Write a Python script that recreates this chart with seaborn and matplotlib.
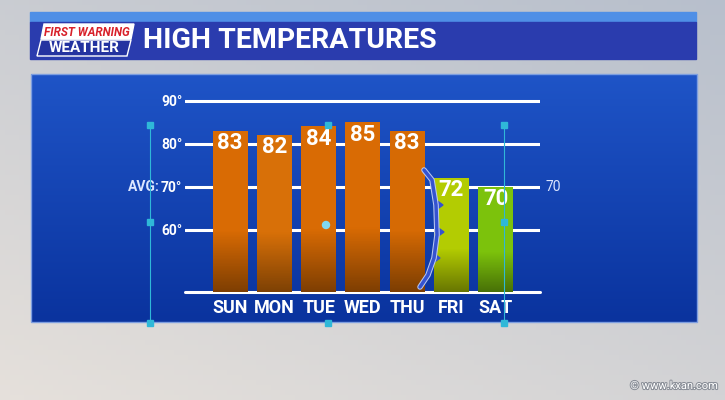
import numpy as np
import pandas as pd
import matplotlib.pyplot as plt
import matplotlib.patheffects as pe
import seaborn as sns
from matplotlib.patches import Rectangle, Polygon, Circle

days = ["SUN", "MON", "TUE", "WED", "THU", "FRI", "SAT"]
highs = [83, 82, 84, 85, 83, 72, 70]
bar_colors = ["#d96b04", "#d87008", "#d96b04", "#d96b04", "#d66a04", "#b3cc02", "#7cc20c"]
grid_temps = [60, 70, 80, 90]
grid_labels = ["60°", "70°", "80°", "90°"]
avg_high = 70
y_floor = 45.5

sns.set_theme(style="white")
plt.rcParams["font.family"] = ["Roboto", "DejaVu Sans"]

fig = plt.figure(figsize=(7.25, 4), dpi=100)

# ---- background: sky, banner, blue panel (pixel coords)
bg = fig.add_axes([0, 0, 1, 1], zorder=0)
bg.set_xlim(0, 725)
bg.set_ylim(400, 0)
bg.axis("off")

yy, xx = np.mgrid[0:1:80j, 0:1:150j]
top = np.array([0.72, 0.75, 0.80])
bot = np.array([0.90, 0.88, 0.86])
mix = (0.6 * yy + 0.4 * (1 - xx))[..., None]
sky = top * (1 - mix) + bot * mix
bg.imshow(sky, extent=(0, 725, 400, 0), aspect="auto", zorder=0)

bg.add_patch(Rectangle((30, 12), 666, 10, color="#4f8fe6", zorder=1))
bg.add_patch(Rectangle((30, 22), 666, 37, color="#2a3cae", zorder=1))

# logo
bg.add_patch(Polygon([(44, 24), (134, 24), (131, 39), (41, 39)], color="white", zorder=2))
bg.add_patch(Polygon([(41, 40), (131, 40), (127, 56), (37, 56)], facecolor="#2433a0",
                     edgecolor="white", lw=1, zorder=2))
bg.text(87, 32, "FIRST WARNING", color="#d8202a", fontsize=8.5, weight="bold",
        style="italic", ha="center", va="center", zorder=3)
bg.text(84, 48, "WEATHER", color="white", fontsize=11, weight="bold",
        ha="center", va="center", zorder=3)

bg.text(143, 41, "HIGH TEMPERATURES", color="white", fontsize=20.5, weight="bold",
        ha="left", va="center", zorder=3)

# panel gradient
pg = np.linspace(0, 1, 100)[:, None, None]
ptop = np.array([0.12, 0.33, 0.78])
pbot = np.array([0.04, 0.20, 0.62])
panel = ptop * (1 - pg) + pbot * pg
bg.imshow(np.repeat(panel, 2, axis=1), extent=(31, 697, 322, 74), aspect="auto", zorder=1)
bg.add_patch(Rectangle((31, 74), 666, 248, fill=False, edgecolor="#7d9ee0", lw=1, zorder=2))

bg.text(718, 386, "© www.kxan.com", color="white", fontsize=8, ha="right", va="center",
        path_effects=[pe.withStroke(linewidth=1.5, foreground="#8a8f98")], zorder=3)

# ---- main chart
ax = fig.add_axes([185 / 725, 108 / 400, 355 / 725, 200 / 400], zorder=1)
ax.patch.set_alpha(0)

df = pd.DataFrame({"day": days, "high": highs})
sns.barplot(data=df, x="day", y="high", hue="day", palette=bar_colors, legend=False,
            width=0.79, saturation=1, linewidth=0, edgecolor="none", ax=ax, zorder=3)

for t in grid_temps:
    ax.axhline(t, color="white", lw=2.2, zorder=1)
ax.axhline(y_floor, color="white", lw=2.2, zorder=1, clip_on=False)

ax.set_xlim(-1.02, 7.0)
ax.set_ylim(y_floor, 92.0)

# darker shading toward bar bottoms
shade = np.zeros((100, 1, 4))
a = np.clip((np.linspace(0, 1, 100) - 0.62) / 0.38, 0, 1)
shade[:, 0, 3] = 0.42 * a
for p in ax.patches:
    x0, w, h = p.get_x(), p.get_width(), p.get_height()
    im = ax.imshow(shade, extent=(x0, x0 + w, y_floor, h), aspect="auto", zorder=4)
    im.set_clip_path(p)

for i, h in enumerate(highs):
    ax.text(i, h - 2.9, str(h), color="white", fontsize=16, weight="bold",
            ha="center", va="center", zorder=5)

ax.set_yticks(grid_temps, grid_labels)
ax.tick_params(axis="y", length=0, pad=2, labelsize=10, labelcolor="white")
ax.tick_params(axis="x", length=0, pad=5, labelsize=13, labelcolor="white")
for lab in ax.get_xticklabels() + ax.get_yticklabels():
    lab.set_fontweight("bold")
ax.set_xlabel("")
ax.set_ylabel("")
sns.despine(ax=ax, left=True, bottom=True)

ax.annotate("AVG:", xy=(0, avg_high), xycoords=("axes fraction", "data"),
            xytext=(-18, 0), textcoords="offset points", ha="right", va="center",
            color="#dce6ff", fontsize=10, weight="bold")
ax.annotate(str(avg_high), xy=(1, avg_high), xycoords=("axes fraction", "data"),
            xytext=(4, 0), textcoords="offset points", ha="left", va="center",
            color="#dce6ff", fontsize=10)

# ---- overlay: cold front + selection handles
ov = fig.add_axes([0, 0, 1, 1], zorder=2)
ov.set_xlim(0, 725)
ov.set_ylim(400, 0)
ov.axis("off")

front_x = [424, 432, 436, 437, 434, 428, 420]
front_y = [170, 180, 205, 235, 258, 275, 287]
ov.plot(front_x, front_y, color="#3553d0", lw=2.5,
        path_effects=[pe.withStroke(linewidth=4, foreground="#b8c8f0")])
for tx, ty in [(436, 205), (437, 232), (433, 258)]:
    ov.add_patch(Polygon([(tx, ty - 5), (tx + 7, ty), (tx, ty + 5)], color="#3553d0"))

hc = "#2fb8d8"
ov.plot([150, 150], [125, 323], color=hc, lw=0.8)
ov.plot([504, 504], [125, 323], color=hc, lw=0.8)
for hx, hy in [(150, 125), (328, 125), (504, 125), (150, 222), (504, 222),
               (150, 323), (328, 323), (504, 323)]:
    ov.add_patch(Rectangle((hx - 3, hy - 3), 6, 6, color=hc))
ov.add_patch(Circle((326, 225), 3.5, color="#7fd8f0"))

fig.savefig("out.png", dpi=100)
